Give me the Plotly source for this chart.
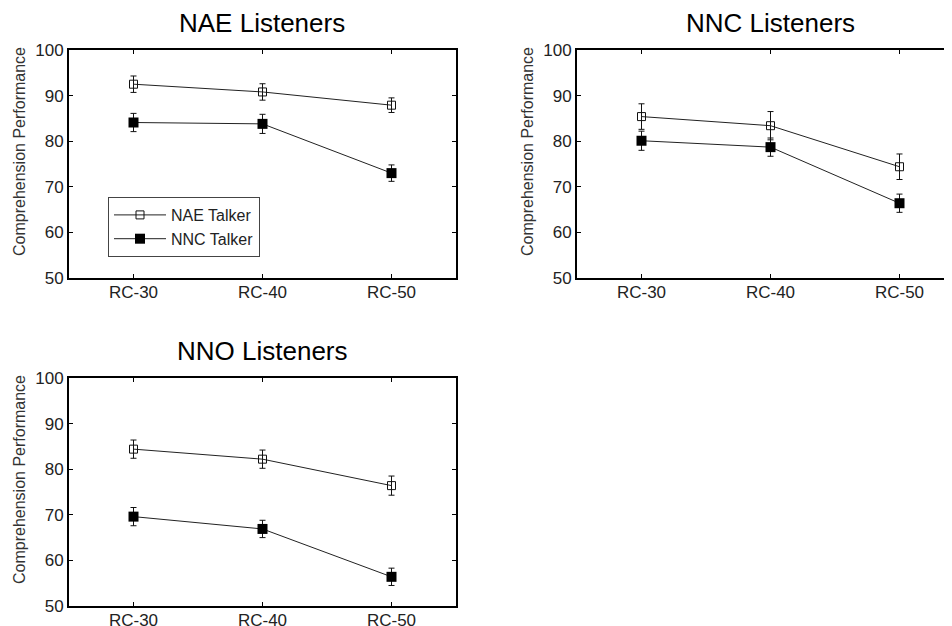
import plotly.graph_objects as go

categories = ["RC-30", "RC-40", "RC-50"]
panel_titles = ["NAE Listeners", "NNC Listeners", "NNO Listeners"]
series_names = ["NAE Talker", "NNC Talker"]

# NAE Listeners
nae_l_nae_t = [92.5, 90.8, 87.9]
nae_l_nae_t_err = [1.8, 1.8, 1.6]
nae_l_nnc_t = [84.1, 83.8, 73.0]
nae_l_nnc_t_err = [2.0, 2.1, 1.8]
# NNC Listeners
nnc_l_nae_t = [85.4, 83.4, 74.4]
nnc_l_nae_t_err = [2.8, 3.1, 2.8]
nnc_l_nnc_t = [80.1, 78.7, 66.4]
nnc_l_nnc_t_err = [2.1, 2.0, 2.0]
# NNO Listeners
nno_l_nae_t = [84.4, 82.2, 76.4]
nno_l_nae_t_err = [2.0, 2.0, 2.1]
nno_l_nnc_t = [69.6, 66.9, 56.4]
nno_l_nnc_t_err = [2.0, 1.9, 1.9]

y_ticks = [50, 60, 70, 80, 90, 100]

W, H = 952, 626
OFF = 8  # page body margin compensation
FONT = "Liberation Sans, Arial, sans-serif"


def px(v):
    return (v - OFF) / W


def py(v):
    return 1 - (v - OFF) / H


panels = [
    (nae_l_nae_t, nae_l_nae_t_err, nae_l_nnc_t, nae_l_nnc_t_err),
    (nnc_l_nae_t, nnc_l_nae_t_err, nnc_l_nnc_t, nnc_l_nnc_t_err),
    (nno_l_nae_t, nno_l_nae_t_err, nno_l_nnc_t, nno_l_nnc_t_err),
]

# layout boxes in screen pixels (left, right, top, bottom)
boxes = [(69, 456, 50, 278), (577, 952, 50, 278), (69, 456, 378, 606)]
px_per_cat = 129.0

fig = go.Figure()
layout = {}
for i, (box, data) in enumerate(zip(boxes, panels)):
    l, r, t, b = box
    xs = "" if i == 0 else str(i + 1)
    xa = "x" + xs
    ya = "y" + xs
    a_vals, a_err, b_vals, b_err = data
    fig.add_trace(go.Scatter(
        x=categories, y=a_vals, xaxis=xa, yaxis=ya,
        mode="lines+markers", name=series_names[0],
        showlegend=(i == 0),
        line=dict(color="#222222", width=1),
        marker=dict(symbol="square-open", size=8, color="#111111", line=dict(width=1)),
        error_y=dict(type="data", array=a_err, color="#111111", thickness=1, width=3),
    ))
    fig.add_trace(go.Scatter(
        x=categories, y=b_vals, xaxis=xa, yaxis=ya,
        mode="lines+markers", name=series_names[1],
        showlegend=(i == 0),
        line=dict(color="#222222", width=1),
        marker=dict(symbol="square", size=10, color="#000000"),
        error_y=dict(type="data", array=b_err, color="#111111", thickness=1, width=3),
    ))
    width_px = r - l
    xmax = -0.5 + width_px / px_per_cat
    layout["xaxis" + xs] = dict(
        domain=[px(l), min(px(r), 1.0)], anchor=ya,
        type="category", range=[-0.5, xmax], automargin=False,
        showline=True, linecolor="black", linewidth=2,
        mirror="ticks", ticks="inside", ticklen=4, tickcolor="black", tickwidth=1,
        showgrid=False, zeroline=False, fixedrange=True,
        ticklabelstandoff=-2,
        tickfont=dict(family=FONT, size=17, color="#222222"),
    )
    layout["yaxis" + xs] = dict(
        domain=[py(b), py(t)], anchor=xa, automargin=False,
        range=[50, 100], tickvals=y_ticks,
        showline=True, linecolor="black", linewidth=2,
        mirror=("ticks" if i != 1 else False), ticks="inside", ticklen=4,
        tickcolor="black", tickwidth=1,
        showgrid=False, zeroline=False, fixedrange=True,
        tickfont=dict(family=FONT, size=17, color="#222222"),
    )

annotations = []
title_pos = [(262, 23), (770, 23), (262, 351)]
ytitle_pos = [(19, 152), (527, 152), (19, 480)]
for i in range(3):
    tx, ty = title_pos[i]
    annotations.append(dict(
        text=panel_titles[i], x=px(tx), y=py(ty), xref="paper", yref="paper",
        xanchor="center", yanchor="middle", showarrow=False,
        font=dict(family=FONT, size=26, color="black"),
    ))
    yx, yy = ytitle_pos[i]
    annotations.append(dict(
        text="Comprehension Performance", x=px(yx), y=py(yy),
        xref="paper", yref="paper", xanchor="center", yanchor="middle",
        textangle=-90, showarrow=False,
        font=dict(family=FONT, size=16, color="#333333"),
    ))

fig.update_layout(
    width=W, height=H,
    margin=dict(l=0, r=0, t=0, b=0, autoexpand=False),
    paper_bgcolor="white", plot_bgcolor="white",
    showlegend=True,
    legend=dict(
        x=px(108), y=py(197), xanchor="left", yanchor="top",
        bgcolor="white", bordercolor="#444444", borderwidth=1,
        font=dict(family=FONT, size=16, color="#222222"),
        tracegroupgap=0, itemwidth=52,
    ),
    annotations=annotations,
    **layout,
)

fig.write_html("out.html")
